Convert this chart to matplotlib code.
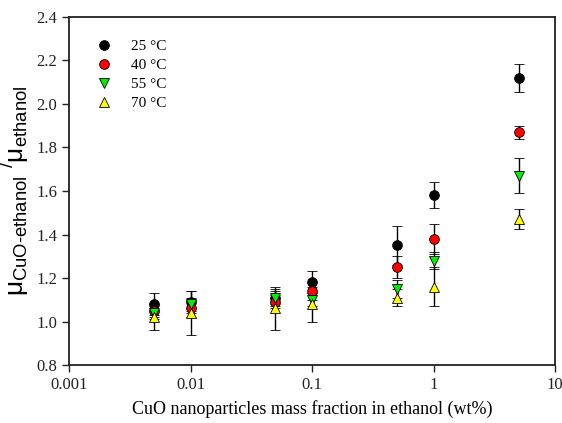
import matplotlib.pyplot as plt

# mass fraction (wt%) and relative viscosity at each temperature
x = [0.005, 0.01, 0.05, 0.1, 0.5, 1, 5]

mu25 = [1.08, 1.09, 1.11, 1.18, 1.35, 1.58, 2.12]
err25 = [0.05, 0.05, 0.04, 0.05, 0.09, 0.06, 0.065]
mu40 = [1.05, 1.06, 1.09, 1.14, 1.25, 1.38, 1.87]
err40 = [0.03, 0.04, 0.03, 0.04, 0.05, 0.07, 0.03]
mu55 = [1.04, 1.08, 1.11, 1.10, 1.15, 1.28, 1.67]
err55 = [0.03, 0.03, 0.03, 0.03, 0.04, 0.04, 0.08]
mu70 = [1.02, 1.04, 1.06, 1.08, 1.11, 1.16, 1.47]
err70 = [0.06, 0.10, 0.10, 0.08, 0.04, 0.09, 0.045]

labels = ['25 °C', '40 °C', '55 °C', '70 °C']

plt.rcParams['font.family'] = ['Liberation Serif', 'DejaVu Serif']
plt.rcParams['mathtext.fontset'] = 'custom'
plt.rcParams['mathtext.rm'] = 'Liberation Sans'
plt.rcParams['mathtext.it'] = 'Liberation Sans'

fig = plt.figure(figsize=(5.62, 4.23), dpi=100)
ax = fig.add_axes([0.1228, 0.137, 0.865, 0.823])

series = [
    (mu25, err25, 'o', 'black'),
    (mu40, err40, 'o', 'red'),
    (mu55, err55, 'v', '#00ee00'),
    (mu70, err70, '^', 'yellow'),
]
handles = []
for (y, e, m, c), lab in zip(series, labels):
    eb = ax.errorbar(x, y, yerr=e, fmt=m, color='black', mfc=c, mec='black',
                     mew=0.6, ms=7, ecolor='black', elinewidth=1.0,
                     capsize=3.8, capthick=1.0, label=lab)
    handles.append(eb[0])

ax.set_xscale('log')
ax.set_xlim(0.001, 10)
ax.set_ylim(0.8, 2.4)
ax.set_xticks([0.001, 0.01, 0.1, 1, 10])
ax.set_xticklabels(['0.001', '0.01', '0.1', '1', '10'])
ax.minorticks_off()
ax.set_yticks([0.8, 1.0, 1.2, 1.4, 1.6, 1.8, 2.0, 2.2, 2.4])
ax.set_yticklabels(['0.8', '1.0', '1.2', '1.4', '1.6', '1.8', '2.0', '2.2', '2.4'])
ax.tick_params(direction='out', length=5, width=1, labelsize=12, colors='#222222')

for s in ax.spines.values():
    s.set_linewidth(1.3)
    s.set_color('#222222')

ax.set_xlabel('CuO nanoparticles mass fraction in ethanol (wt%)', fontsize=13, labelpad=5)
ax.set_ylabel(r'$\mu_{\mathrm{CuO\text{-}ethanol}}\ {}^{/}\mu_{\mathrm{ethanol}}$', fontsize=19, labelpad=4)

ax.legend(handles, labels, loc='upper left', bbox_to_anchor=(0.02, 0.975), frameon=False,
          fontsize=11, handletextpad=1.0, labelspacing=0.35, handlelength=1.5)

plt.savefig('out.png', dpi=100)
